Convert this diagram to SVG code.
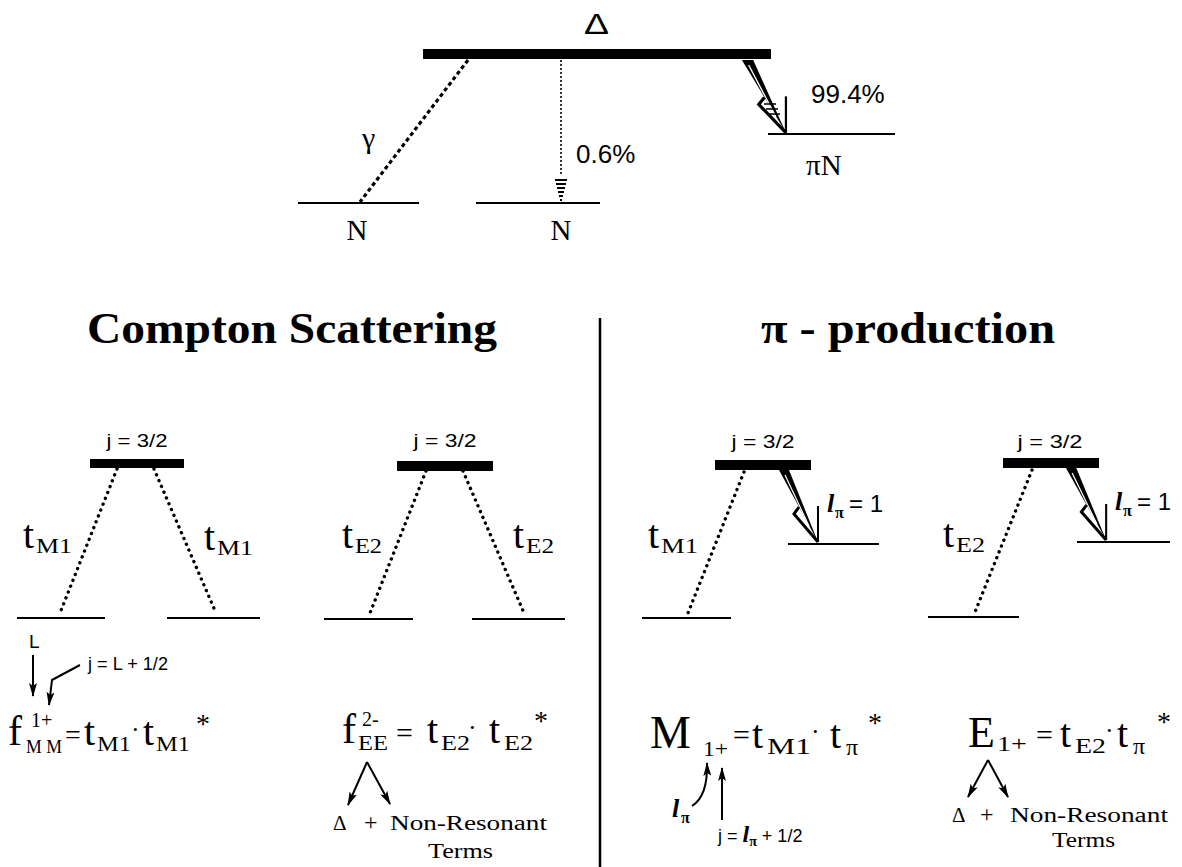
<svg xmlns="http://www.w3.org/2000/svg" width="1182" height="867" viewBox="0 0 1182 867">
<style>
.serif{font-family:"Liberation Serif","DejaVu Serif",serif;fill:#000}
.sans{font-family:"Liberation Sans","DejaVu Sans",sans-serif;fill:#000}
.lvl{stroke:#000;stroke-width:2;fill:none}
.bar{fill:#000}
.dots{stroke:#000;stroke-width:3.4;stroke-linecap:round;stroke-dasharray:0.1 6.2;fill:none}
.dash{stroke:#000;stroke-width:3.2;stroke-dasharray:4 3;fill:none}
.fine{stroke:#000;stroke-width:1.6;stroke-dasharray:2 2;fill:none}
.arr{stroke:#000;stroke-width:2;fill:none;marker-end:url(#ah)}
.div{stroke:#000;stroke-width:2.5;fill:none}
</style>
<defs>
<marker id="ah" viewBox="0 0 14 8" refX="13" refY="4" markerWidth="14" markerHeight="8" orient="auto" markerUnits="userSpaceOnUse">
<path d="M0,0 L14,4 L0,8 L3,4 z" fill="#000"/>
</marker>
<g id="piarrow" fill="none" stroke="#000">
<path d="M-1,0 L9,0 L38,72 z" fill="#000" stroke="none"/>
<path d="M5,5 L29,56" stroke="#fff" stroke-width="1.2"/>
<path d="M38,72 L38,36" stroke-width="2"/>
<path d="M38,72 L14,44 L19,37" stroke-width="3"/>
</g>
</defs>

<g id="delta-top">
<text class="sans" x="584" y="34" font-size="30" textLength="25" lengthAdjust="spacingAndGlyphs">Δ</text>
<rect class="bar" x="423" y="49" width="348" height="10"/>
</g>
<g id="N-left">
<path class="lvl" d="M298,203 H419"/>
<text class="serif" x="357" y="240" font-size="29" text-anchor="middle">N</text>
</g>
<g id="N-mid">
<path class="lvl" d="M476,203 H600"/>
<text class="serif" x="561" y="240" font-size="29" text-anchor="middle">N</text>
</g>
<g id="piN">
<path class="lvl" d="M768,134 H895"/>
<text class="serif" x="806" y="175" font-size="29">πN</text>
</g>

<g id="titles">
<text class="serif" x="87" y="343" font-size="44" font-weight="bold" textLength="410" lengthAdjust="spacingAndGlyphs">Compton  Scattering</text>
<text class="serif" x="761" y="343" font-size="44" font-weight="bold" textLength="294" lengthAdjust="spacingAndGlyphs">π - production</text>
<path class="div" d="M600,318 V867"/>
</g>

<g id="panel1">
<text class="sans" x="137" y="447" font-size="19" text-anchor="middle" textLength="61" lengthAdjust="spacingAndGlyphs">j = 3/2</text>
<rect class="bar" x="90" y="459" width="94" height="9"/>
<path class="lvl" d="M17,618 H105"/>
<path class="lvl" d="M167,618 H260"/>
<text class="serif" x="23" y="548" font-size="40">t</text>
<text class="serif" x="36" y="553" font-size="21" textLength="36" lengthAdjust="spacingAndGlyphs">M1</text>
<text class="serif" x="204" y="550" font-size="40">t</text>
<text class="serif" x="217" y="555" font-size="21" textLength="36" lengthAdjust="spacingAndGlyphs">M1</text>
</g>

<g id="panel2">
<text class="sans" x="445" y="447" font-size="19" text-anchor="middle" textLength="63" lengthAdjust="spacingAndGlyphs">j = 3/2</text>
<rect class="bar" x="397" y="461" width="96" height="10"/>
<path class="lvl" d="M324,619 H413"/>
<path class="lvl" d="M472,619 H565"/>
<text class="serif" x="342" y="548" font-size="40">t</text>
<text class="serif" x="355" y="553" font-size="21" textLength="27" lengthAdjust="spacingAndGlyphs">E2</text>
<text class="serif" x="513" y="548" font-size="40">t</text>
<text class="serif" x="526" y="553" font-size="21" textLength="28" lengthAdjust="spacingAndGlyphs">E2</text>
</g>

<g id="panel3">
<text class="sans" x="763" y="448" font-size="19" text-anchor="middle" textLength="63" lengthAdjust="spacingAndGlyphs">j = 3/2</text>
<rect class="bar" x="715" y="460" width="96" height="10"/>
<path class="lvl" d="M642,618 H731"/>
<path class="lvl" d="M788,544 H879"/>
<text class="serif" x="648" y="548" font-size="40">t</text>
<text class="serif" x="661" y="553" font-size="21" textLength="37" lengthAdjust="spacingAndGlyphs">M1</text>
<text class="serif" x="827" y="512" font-size="26" font-style="italic" font-weight="bold">l</text>
<text class="serif" x="835" y="518" font-size="16" font-weight="bold">π</text>
<text class="sans" x="849" y="512" font-size="24">= 1</text>
</g>

<g id="panel4">
<text class="sans" x="1050" y="448" font-size="19" text-anchor="middle" textLength="65" lengthAdjust="spacingAndGlyphs">j = 3/2</text>
<rect class="bar" x="1003" y="458" width="96" height="10"/>
<path class="lvl" d="M928,617 H1019"/>
<path class="lvl" d="M1077,542 H1170"/>
<text class="serif" x="943" y="547" font-size="40">t</text>
<text class="serif" x="956" y="552" font-size="21" textLength="29" lengthAdjust="spacingAndGlyphs">E2</text>
<text class="serif" x="1115" y="510" font-size="26" font-style="italic" font-weight="bold">l</text>
<text class="serif" x="1123" y="516" font-size="16" font-weight="bold">π</text>
<text class="sans" x="1137" y="510" font-size="24">= 1</text>
</g>

<g id="formula1">
<text class="serif" x="8" y="745" font-size="42">f</text>
<text class="serif" x="31" y="727" font-size="20">1+</text>
<text class="serif" x="26" y="753" font-size="19" textLength="36" lengthAdjust="spacingAndGlyphs">M M</text>
<text class="serif" x="65" y="744" font-size="28">=</text>
<text class="serif" x="84" y="745" font-size="40">t</text>
<text class="serif" x="97" y="751" font-size="21" textLength="34" lengthAdjust="spacingAndGlyphs">M1</text>
<text class="serif" x="131" y="738" font-size="26">·</text>
<text class="serif" x="143" y="745" font-size="40">t</text>
<text class="serif" x="156" y="751" font-size="21" textLength="34" lengthAdjust="spacingAndGlyphs">M1</text>
<text class="serif" x="196" y="733" font-size="28">*</text>
<text class="sans" x="29" y="648" font-size="19">L</text>
<text class="sans" x="88" y="670" font-size="18" textLength="80" lengthAdjust="spacingAndGlyphs">j = L + 1/2</text>
</g>

<g id="formula2">
<text class="serif" x="342" y="743" font-size="42">f</text>
<text class="serif" x="362" y="726" font-size="20">2-</text>
<text class="serif" x="358" y="750" font-size="20" textLength="30" lengthAdjust="spacingAndGlyphs">EE</text>
<text class="serif" x="396" y="743" font-size="30">=</text>
<text class="serif" x="427" y="743" font-size="40">t</text>
<text class="serif" x="441" y="750" font-size="21" textLength="29" lengthAdjust="spacingAndGlyphs">E2</text>
<text class="serif" x="468" y="736" font-size="26">·</text>
<text class="serif" x="489" y="743" font-size="40">t</text>
<text class="serif" x="504" y="750" font-size="21" textLength="29" lengthAdjust="spacingAndGlyphs">E2</text>
<text class="serif" x="534" y="730" font-size="28">*</text>
<text class="serif" x="333" y="830" font-size="21">Δ</text>
<text class="serif" x="364" y="830" font-size="24">+</text>
<text class="serif" x="390" y="830" font-size="20" textLength="157" lengthAdjust="spacingAndGlyphs">Non-Resonant</text>
<text class="serif" x="428" y="858" font-size="20" textLength="65" lengthAdjust="spacingAndGlyphs">Terms</text>
</g>

<g id="formula3">
<text class="serif" x="650" y="748" font-size="46">M</text>
<text class="serif" x="703" y="756" font-size="21" textLength="25" lengthAdjust="spacingAndGlyphs">1+</text>
<text class="serif" x="733" y="745" font-size="30">=</text>
<text class="serif" x="752" y="748" font-size="40">t</text>
<text class="serif" x="767" y="754" font-size="23" textLength="44" lengthAdjust="spacingAndGlyphs">M1</text>
<text class="serif" x="811" y="740" font-size="26">·</text>
<text class="serif" x="830" y="748" font-size="40">t</text>
<text class="serif" x="846" y="755" font-size="24">π</text>
<text class="serif" x="868" y="732" font-size="28">*</text>
<text class="serif" x="672" y="817" font-size="26" font-style="italic" font-weight="bold">l</text>
<text class="serif" x="681" y="823" font-size="16" font-weight="bold">π</text>
<text class="sans" x="718" y="842" font-size="18">j = <tspan class="serif" font-size="24" font-style="italic" font-weight="bold">l</tspan><tspan class="serif" font-size="14" font-weight="bold" dy="4">π</tspan><tspan dy="-4"> + 1/2</tspan></text>
</g>

<g id="formula4">
<text class="serif" x="968" y="747" font-size="44">E</text>
<text class="serif" x="997" y="751" font-size="22" textLength="30" lengthAdjust="spacingAndGlyphs">1+</text>
<text class="serif" x="1036" y="745" font-size="30">=</text>
<text class="serif" x="1060" y="747" font-size="40">t</text>
<text class="serif" x="1075" y="753" font-size="22" textLength="31" lengthAdjust="spacingAndGlyphs">E2</text>
<text class="serif" x="1105" y="739" font-size="26">·</text>
<text class="serif" x="1117" y="747" font-size="40">t</text>
<text class="serif" x="1133" y="754" font-size="24">π</text>
<text class="serif" x="1157" y="731" font-size="28">*</text>
<text class="serif" x="952" y="822" font-size="21">Δ</text>
<text class="serif" x="980" y="822" font-size="24">+</text>
<text class="serif" x="1010" y="822" font-size="20" textLength="158" lengthAdjust="spacingAndGlyphs">Non-Resonant</text>
<text class="serif" x="1052" y="847" font-size="20" textLength="63" lengthAdjust="spacingAndGlyphs">Terms</text>
</g>

<g id="top-labels">
<text class="serif" x="362" y="148" font-size="30">γ</text>
<text class="sans" x="576" y="163" font-size="26">0.6%</text>
<text class="sans" x="811" y="103" font-size="26">99.4%</text>
</g>

<g id="connectors">
<path class="dash" d="M468,60 L360,202"/>
<path class="fine" d="M561,60 V176"/>
<path d="M555,180 H567 M556,184 H566 M557,188 H565 M558,192 H564 M559,196 H563 M560,200 H562" stroke="#000" stroke-width="2" fill="none"/>
<use href="#piarrow" transform="translate(743,60) scale(1.13,1.01)"/>
<path d="M764,104 H776 M766,109 H778 M769,114 H780" stroke="#000" stroke-width="1.5" fill="none"/>
<path class="dots" d="M117,469 L60,613"/>
<path class="dots" d="M154,469 L216,613"/>
<path class="dots" d="M426,471 L370,613"/>
<path class="dots" d="M463,471 L524,613"/>
<path class="dots" d="M744,472 L688,613"/>
<path class="dots" d="M1032,470 L975,612"/>
<use href="#piarrow" transform="translate(780,470)"/>
<use href="#piarrow" transform="translate(1067,468) scale(1.03,1)"/>
<path class="arr" d="M33,655 V696"/>
<path class="arr" d="M80,665 L52,680 L49,705"/>
<path class="arr" d="M367,762 L348,805"/>
<path class="arr" d="M367,762 L390,804"/>
<path class="arr" d="M692,806 Q708,796 707,763"/>
<path class="arr" d="M722,820 V768"/>
<path class="arr" d="M988,760 L968,797"/>
<path class="arr" d="M988,760 L1008,797"/>
</g>
</svg>
